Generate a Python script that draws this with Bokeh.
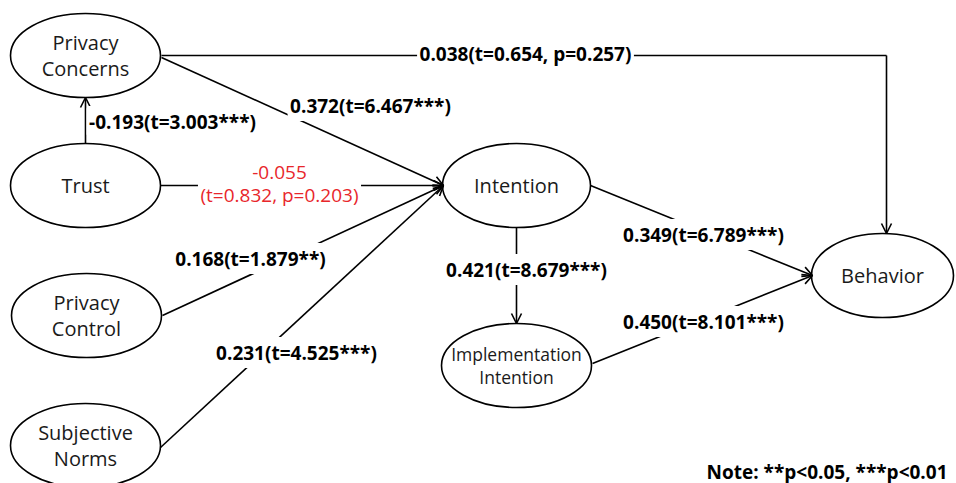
from bokeh.plotting import figure
from bokeh.models import ColumnDataSource, Arrow, OpenHead, LabelSet, Range1d
from bokeh.core.properties import value
from bokeh.embed import file_html
from bokeh.resources import INLINE

H = 483  # reference pixel height, used to flip y

# ---- nodes (constructs) ----
nodes = ["Privacy\nConcerns", "Trust", "Privacy\nControl", "Subjective\nNorms",
         "Intention", "Implementation\nIntention", "Behavior"]
node_x = [85, 85, 86, 85, 516, 516, 882]
node_y = [55, 185, 315, 445, 185, 365, 275]
node_w = [150, 150, 150, 150, 148, 150, 142]
node_h = [84, 84, 84, 84, 84, 84, 84]

# ---- path coefficients (significant, bold) ----
coef_text = ["0.038(t=0.654, p=0.257)", "0.372(t=6.467***)", "-0.193(t=3.003***)",
             "0.168(t=1.879**)", "0.231(t=4.525***)", "0.421(t=8.679***)",
             "0.349(t=6.789***)", "0.450(t=8.101***)"]
coef_x = [525, 370, 172, 250, 296, 526, 703, 703]
coef_y = [53, 105, 121, 258, 352, 269, 234, 321]

# ---- non-significant path (red) ----
ns_text = ["-0.055", "(t=0.832, p=0.203)"]
ns_x = [279, 279]
ns_y = [172, 194]

note_text = ["Note: **p<0.05, ***p<0.01"]

# ---- path segments ----
arr_x0 = [85, 161, 160, 162, 160, 516, 590, 592, 886]
arr_y0 = [143, 57, 185, 315, 447, 227, 185, 363, 55]
arr_x1 = [85, 443, 443, 443, 443, 516, 812, 812, 886]
arr_y1 = [97, 185, 185, 185, 185, 323, 275, 275, 233]
seg_x = [[161, 886]]
seg_y = [[55, 55]]

W, HH = 956, 483
p = figure(width=W, height=HH, output_backend="svg", toolbar_location=None,
           x_range=Range1d(0, W), y_range=Range1d(H - HH, H),
           min_border=0, background_fill_color="white", border_fill_color="white")
p.axis.visible = False
p.grid.visible = False
p.outline_line_color = None

FONT = value("Open Sans")

p.multi_line(xs=seg_x, ys=[[H - v for v in ys] for ys in seg_y],
             line_color="black", line_width=1.6)

arr_src = ColumnDataSource(dict(x0=arr_x0, y0=[H - v for v in arr_y0],
                                x1=arr_x1, y1=[H - v for v in arr_y1]))
p.add_layout(Arrow(source=arr_src, x_start="x0", y_start="y0", x_end="x1", y_end="y1",
                   line_color="black", line_width=1.6,
                   end=OpenHead(size=10, line_color="black", line_width=1.6)))

# style: long node names get a slightly smaller font so they fit their ellipse
node_fs = ["17.5px" if max(len(s) for s in t.split("\n")) > 12 else "20px" for t in nodes]
node_src = ColumnDataSource(dict(x=node_x, y=[H - v for v in node_y],
                                 w=node_w, h=node_h, t=nodes, fs=node_fs))
p.ellipse(x="x", y="y", width="w", height="h", source=node_src,
          fill_color="white", line_color="black", line_width=1.6)
p.text(x="x", y="y", text="t", source=node_src, text_font=FONT,
       text_font_size="fs", text_align="center", text_baseline="middle",
       text_line_height=0.95, text_color="#1a1a1a")

coef_src = ColumnDataSource(dict(x=coef_x, y=[H - v for v in coef_y], t=coef_text))
p.add_layout(LabelSet(x="x", y="y", text="t", source=coef_src, text_font=FONT,
                      text_font_size="19px", text_font_style="bold",
                      text_align="center", text_baseline="middle",
                      text_color="black", background_fill_color="white",
                      border_line_color="white", border_line_width=5))

ns_src = ColumnDataSource(dict(x=ns_x, y=[H - v for v in ns_y], t=ns_text))
p.add_layout(LabelSet(x="x", y="y", text="t", source=ns_src, text_font=FONT,
                      text_font_size="19px", text_align="center", text_baseline="middle",
                      text_color="#e8262b", background_fill_color="white",
                      border_line_color="white", border_line_width=5))

note_src = ColumnDataSource(dict(x=[947], y=[H - 471], t=note_text))
p.add_layout(LabelSet(x="x", y="y", text="t", source=note_src, text_font=FONT,
                      text_font_size="19px", text_font_style="bold",
                      text_align="right", text_baseline="middle", text_color="black"))

open("out.html", "w").write(file_html(p, INLINE))
